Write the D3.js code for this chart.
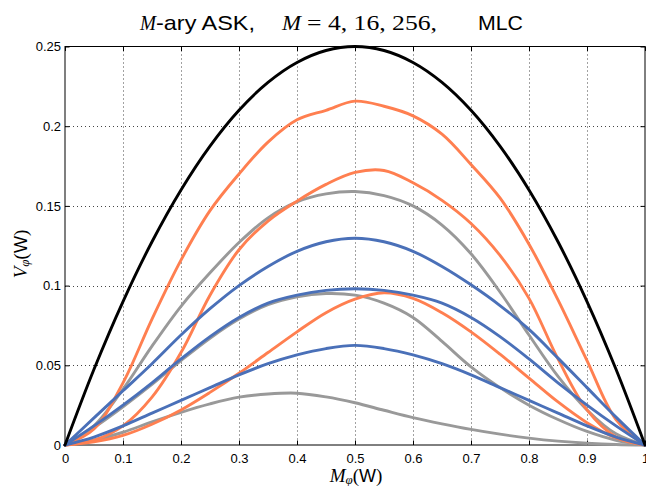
<!DOCTYPE html>
<html>
<head>
<meta charset="utf-8">
<script src="https://cdn.jsdelivr.net/npm/d3@7"></script>
<style>
  body { margin: 0; background: #fff; }
  svg { display: block; }
</style>
</head>
<body>
<svg id="chart" width="646" height="486"></svg>
<script>
// Sample positions along M_phi (W)
const mPhi = [0, 0.05, 0.1, 0.15, 0.2, 0.25, 0.3, 0.35, 0.4, 0.45, 0.5,
              0.55, 0.6, 0.65, 0.7, 0.75, 0.8, 0.85, 0.9, 0.95, 1];

// Upper bound curve
const bound = [0, 0.0475, 0.09, 0.1275, 0.16, 0.1875, 0.21, 0.2275, 0.24, 0.2475, 0.25,
               0.2475, 0.24, 0.2275, 0.21, 0.1875, 0.16, 0.1275, 0.09, 0.0475, 0];

// Orange family
const orangeHigh = [0, 0.010, 0.039, 0.079, 0.116, 0.147, 0.170, 0.190, 0.204, 0.210, 0.2157,
                    0.2125, 0.2065, 0.195, 0.176, 0.155, 0.126, 0.091, 0.053, 0.016, 0];
const orangeMid  = [0, 0.003, 0.012, 0.030, 0.058, 0.094, 0.1225, 0.1405, 0.153, 0.1635, 0.171,
                    0.1722, 0.1645, 0.1535, 0.139, 0.119, 0.092, 0.054, 0.022, 0.005, 0];
const orangeLow  = [0, 0.002, 0.006, 0.013, 0.022, 0.033, 0.045, 0.058, 0.071, 0.083, 0.0915,
                    0.0955, 0.092, 0.083, 0.071, 0.057, 0.042, 0.027, 0.014, 0.0045, 0];

// Gray family
const grayHigh = [0, 0.012, 0.035, 0.062, 0.087, 0.108, 0.127, 0.1425, 0.1525, 0.1575, 0.159,
                  0.1565, 0.150, 0.138, 0.120, 0.096, 0.069, 0.043, 0.022, 0.007, 0];
const grayMid  = [0, 0.011, 0.024, 0.038, 0.053, 0.067, 0.079, 0.088, 0.093, 0.095, 0.094,
                  0.089, 0.080, 0.065, 0.049, 0.036, 0.025, 0.016, 0.0085, 0.003, 0];
const grayLow  = [0, 0.003, 0.008, 0.0145, 0.0205, 0.0258, 0.0300, 0.0320, 0.0325, 0.0302, 0.0265,
                  0.0218, 0.0172, 0.0133, 0.0098, 0.0068, 0.0043, 0.0024, 0.0011, 0.0003, 0];

// Blue family
const blueHigh = [0, 0.017, 0.034, 0.051, 0.069, 0.0855, 0.100, 0.112, 0.1215, 0.1275, 0.1297,
                  0.1275, 0.1215, 0.112, 0.1005, 0.0875, 0.0725, 0.0545, 0.036, 0.0175, 0];
const blueMid  = [0, 0.012, 0.025, 0.039, 0.054, 0.068, 0.080, 0.089, 0.094, 0.097, 0.098,
                  0.097, 0.094, 0.089, 0.080, 0.068, 0.054, 0.039, 0.025, 0.012, 0];
const blueLow  = [0, 0.005, 0.012, 0.020, 0.028, 0.036, 0.044, 0.051, 0.0565, 0.0605, 0.0625,
                  0.0605, 0.0565, 0.051, 0.044, 0.036, 0.028, 0.020, 0.012, 0.005, 0];

// Axis ticks
const xTicks = [0, 0.1, 0.2, 0.3, 0.4, 0.5, 0.6, 0.7, 0.8, 0.9, 1];
const xTickLabels = ["0", "0.1", "0.2", "0.3", "0.4", "0.5", "0.6", "0.7", "0.8", "0.9", "1"];
const yTicks = [0, 0.05, 0.1, 0.15, 0.2, 0.25];
const yTickLabels = ["0", "0.05", "0.1", "0.15", "0.2", "0.25"];

const COLORS = { bound: "#000000", orange: "#ff7f50", gray: "#999999", blue: "#4a70b8" };

const series = [
  { v: grayHigh, c: COLORS.gray }, { v: grayMid, c: COLORS.gray }, { v: grayLow, c: COLORS.gray },
  { v: orangeHigh, c: COLORS.orange }, { v: orangeMid, c: COLORS.orange }, { v: orangeLow, c: COLORS.orange },
  { v: blueHigh, c: COLORS.blue }, { v: blueMid, c: COLORS.blue }, { v: blueLow, c: COLORS.blue },
  { v: bound, c: COLORS.bound }
];

const svg = d3.select("#chart");
const L = 65, R = 645, T = 46.5, B = 445;

const x = d3.scaleLinear().domain([0, 1]).range([L, R]);
const y = d3.scaleLinear().domain([0, 0.25]).range([B, T]);

const sans = "'Liberation Sans', Arial, Helvetica, sans-serif";
const serif = "'Liberation Serif', 'DejaVu Serif', 'Times New Roman', serif";

// Dotted grid
const grid = svg.append("g").attr("stroke", "#444").attr("stroke-width", 1)
  .attr("stroke-dasharray", "1,3");
xTicks.slice(1, -1).forEach(t => {
  grid.append("line").attr("x1", Math.round(x(t)) + 0.5).attr("x2", Math.round(x(t)) + 0.5)
    .attr("y1", T).attr("y2", B);
});
yTicks.slice(1, -1).forEach(t => {
  grid.append("line").attr("y1", Math.round(y(t)) + 0.5).attr("y2", Math.round(y(t)) + 0.5)
    .attr("x1", L).attr("x2", R);
});

// Axes with inward ticks
const xAxisB = d3.axisBottom(x).tickValues(xTicks).tickSizeInner(-4.5).tickSizeOuter(0)
  .tickFormat((d, i) => xTickLabels[i]).tickPadding(9);
const xAxisT = d3.axisTop(x).tickValues(xTicks).tickSizeInner(-4.5).tickSizeOuter(0).tickFormat("");
const yAxisL = d3.axisLeft(y).tickValues(yTicks).tickSizeInner(-4.5).tickSizeOuter(0)
  .tickFormat((d, i) => yTickLabels[i]).tickPadding(4);
const yAxisR = d3.axisRight(y).tickValues(yTicks).tickSizeInner(-4.5).tickSizeOuter(0).tickFormat("");

function styleAxis(g) {
  g.select(".domain").remove();
  g.selectAll("line").attr("stroke", "#000");
  g.selectAll("text").attr("fill", "#000").style("font-family", sans).style("font-size", "13px");
}
svg.append("g").attr("transform", `translate(0,${B})`).call(xAxisB).call(styleAxis);
svg.append("g").attr("transform", `translate(0,${T})`).call(xAxisT).call(styleAxis);
svg.append("g").attr("transform", `translate(${L},0)`).call(yAxisL).call(styleAxis);
svg.append("g").attr("transform", `translate(${R},0)`).call(yAxisR).call(styleAxis);

// Frame
svg.append("rect").attr("x", L).attr("y", T).attr("width", R - L).attr("height", B - T)
  .attr("fill", "none").attr("stroke", "#000").attr("stroke-width", 1);

// Curves
const line = d3.line().x((d, i) => x(mPhi[i])).y(d => y(d)).curve(d3.curveCatmullRom.alpha(0.5));
svg.append("g").selectAll("path").data(series).join("path")
  .attr("d", s => line(s.v))
  .attr("fill", "none")
  .attr("stroke", s => s.c)
  .attr("stroke-width", 2.9)
  .attr("stroke-linejoin", "round")
  .attr("stroke-linecap", "round");

// Title
const titleParts = [
  { t: "M", x: 140, w: 16, f: serif, it: true },
  { t: "-ary ASK,", x: 156, w: 99, f: sans, it: false },
  { t: "M", x: 282, w: 19, f: serif, it: true },
  { t: "= 4, 16, 256,", x: 307, w: 130, f: serif, it: false },
  { t: "MLC", x: 478, w: 45, f: sans, it: false }
];
svg.append("g").selectAll("text").data(titleParts).join("text")
  .attr("x", d => d.x).attr("y", 30)
  .attr("font-size", 21).attr("fill", "#000")
  .style("font-family", d => d.f)
  .style("font-style", d => d.it ? "italic" : "normal")
  .attr("textLength", d => d.w)
  .attr("lengthAdjust", "spacingAndGlyphs")
  .text(d => d.t);

// Axis labels
function axisLabel(g, letter) {
  g.append("tspan").style("font-family", serif).style("font-style", "italic").attr("font-size", 19).text(letter);
  g.append("tspan").style("font-family", serif).style("font-style", "italic").attr("font-size", 13)
    .attr("dy", 2).text("φ");
  g.append("tspan").style("font-family", serif).attr("font-size", 19).attr("dy", -2).text("(");
  g.append("tspan").style("font-family", sans).attr("font-size", 18).text("W");
  g.append("tspan").style("font-family", serif).attr("font-size", 19).text(")");
}
const xl = svg.append("text").attr("x", 356).attr("y", 482).attr("text-anchor", "middle").attr("fill", "#000");
axisLabel(xl, "M");
const yl = svg.append("text").attr("transform", "translate(27,254) rotate(-90)")
  .attr("text-anchor", "middle").attr("fill", "#000");
axisLabel(yl, "V");
</script>
</body>
</html>
